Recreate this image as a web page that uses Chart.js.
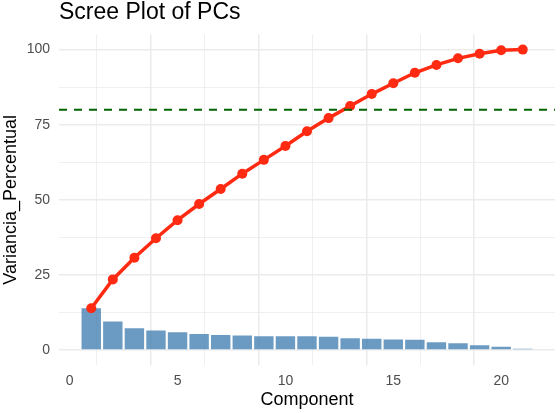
<!DOCTYPE html>
<html>
<head>
<meta charset="utf-8">
<script src="https://cdn.jsdelivr.net/npm/chart.js@4"></script>
<style>
  html, body { margin: 0; padding: 0; background: #fff; }
  #wrap { width: 560px; height: 413px; }
</style>
</head>
<body>
<div id="wrap"><canvas id="scree"></canvas></div>
<script>
// values
const components = [1, 2, 3, 4, 5, 6, 7, 8, 9, 10, 11, 12, 13, 14, 15, 16, 17, 18, 19, 20, 21];
const variance = [13.9, 9.5, 7.2, 6.5, 5.9, 5.3, 5.0, 4.8, 4.6, 4.6, 4.6, 4.4, 3.9, 3.7, 3.5, 3.4, 2.6, 2.2, 1.6, 1.1, 0.4];
const cumulative = [13.9, 23.5, 30.7, 37.2, 43.2, 48.6, 53.6, 58.7, 63.3, 67.9, 72.8, 77.2, 81.2, 85.2, 88.8, 92.3, 94.9, 97.1, 98.6, 99.8, 100];
const threshold = 80;
const xTicks = [0, 2.5, 5, 7.5, 10, 12.5, 15, 17.5, 20];
const yTicks = [0, 12.5, 25, 37.5, 50, 62.5, 75, 87.5, 100];

// ggplot style expansion: 5% on each side
const xMin = 0.55 - 0.05 * 20.9, xMax = 21.45 + 0.05 * 20.9;
const yMin = -5, yMax = 105;

const FONT = '"Liberation Sans", Arial, sans-serif';
const gridColor = '#EBEBEB';

// thicker line for labelled ticks, thin one for minor breaks
function gridWidth(c, step) {
  if (!c.tick) return 0;
  return c.tick.value % step === 0 ? 1.5 : 0.8;
}

const ctx = document.getElementById('scree').getContext('2d');

const chart = new Chart(ctx, {
  data: {
    datasets: [
      {
        type: 'line',
        data: [{ x: xMin, y: threshold }, { x: xMax, y: threshold }],
        borderColor: '#006400',
        borderWidth: 2,
        borderDash: [8, 7],
        pointRadius: 0,
        order: 1
      },
      {
        type: 'line',
        data: components.map((c, i) => ({ x: c, y: cumulative[i] })),
        borderColor: '#FF2A12',
        backgroundColor: '#FF2A12',
        borderWidth: 3.5,
        pointRadius: 5,
        pointBorderWidth: 0,
        tension: 0,
        order: 2
      },
      {
        type: 'bar',
        data: components.map((c, i) => ({ x: c, y: variance[i] })),
        backgroundColor: 'rgba(70,130,180,0.8)',
        borderWidth: 0,
        barPercentage: 0.9,
        categoryPercentage: 1,
        order: 3
      }
    ]
  },
  options: {
    responsive: true,
    maintainAspectRatio: false,
    animation: false,
    layout: { padding: { left: 0, right: 2, top: 0, bottom: 0 } },
    plugins: {
      legend: { display: false },
      tooltip: { enabled: false },
      title: {
        display: true,
        text: 'Scree Plot of PCs',
        align: 'start',
        fullSize: false,
        color: '#000',
        font: { family: FONT, size: 23, weight: 'normal' },
        padding: { top: -1, bottom: 8 }
      }
    },
    scales: {
      x: {
        type: 'linear',
        min: xMin,
        max: xMax,
        offset: false,
        afterBuildTicks: s => { s.ticks = xTicks.map(v => ({ value: v })); },
        afterFit: s => { s.height = 48; },
        border: { display: false },
        grid: {
          drawTicks: false,
          color: gridColor,
          lineWidth: c => gridWidth(c, 5)
        },
        ticks: {
          autoSkip: false,
          maxRotation: 0,
          padding: 8,
          color: '#4D4D4D',
          font: { family: FONT, size: 14 },
          callback: v => (v % 5 === 0 ? v : '')
        },
        title: {
          display: true,
          text: 'Component',
          color: '#000',
          font: { family: FONT, size: 18 },
          padding: { top: 0, bottom: 2 }
        }
      },
      y: {
        type: 'linear',
        min: yMin,
        max: yMax,
        afterBuildTicks: s => { s.ticks = yTicks.map(v => ({ value: v })); },
        afterFit: s => { s.width = 59; },
        border: { display: false },
        grid: {
          drawTicks: false,
          color: gridColor,
          lineWidth: c => gridWidth(c, 25)
        },
        ticks: {
          autoSkip: false,
          padding: 9,
          color: '#4D4D4D',
          font: { family: FONT, size: 14 },
          callback: v => (v % 25 === 0 ? v : '')
        },
        title: {
          display: true,
          text: 'Variancia_Percentual',
          color: '#000',
          font: { family: FONT, size: 18 },
          padding: { top: 0, bottom: 0 }
        }
      }
    }
  }
});
</script>
</body>
</html>
